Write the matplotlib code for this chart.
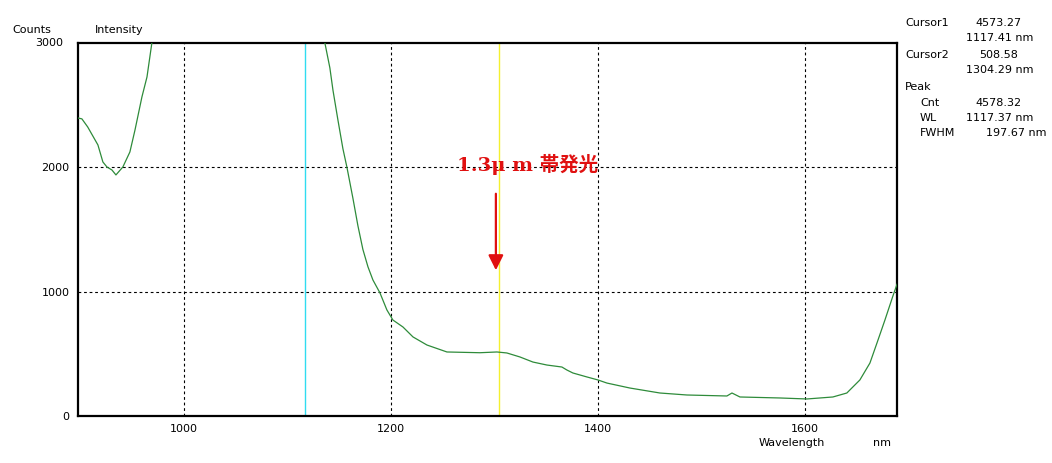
import matplotlib
matplotlib.use("Agg")
import matplotlib.pyplot as plt

# spectrum (nm, counts)
wavelength = [897.6, 901.4, 907.0, 916.9, 921.7, 925.6, 930.4, 934.3, 941.0, 947.8,
              952.7, 959.4, 964.3, 969.0, 990.0, 1030.0, 1080.0, 1117.4, 1125.0, 1130.0,
              1136.2, 1141.0, 1144.0, 1148.8, 1153.6, 1157.5, 1163.3, 1168.1, 1172.9, 1177.8,
              1182.6, 1189.4, 1196.1, 1201.9, 1211.6, 1221.3, 1234.8, 1254.1, 1286.0, 1302.4,
              1312.0, 1324.6, 1337.2, 1350.7, 1365.2, 1370.0, 1375.8, 1389.4, 1400.0, 1408.7,
              1430.9, 1459.9, 1486.0, 1524.6, 1529.5, 1537.2, 1575.8, 1601.9, 1627.0, 1640.5,
              1653.1, 1662.8, 1669.6, 1677.3, 1685.0, 1689.0]
counts = [2397, 2390, 2325, 2180, 2043, 2003, 1979, 1939, 2003, 2124,
          2300, 2566, 2727, 3000, 3800, 4300, 4520, 4578, 3600, 3320,
          3000, 2800, 2620, 2380, 2150, 2000, 1750, 1530, 1340, 1200,
          1094, 990, 853, 772, 716, 636, 571, 515, 509, 515,
          507, 475, 434, 410, 394, 370, 346, 314, 290, 265,
          225, 185, 169, 161, 185, 153, 145, 137, 153, 185,
          290, 426, 587, 772, 965, 1060]

cursor1 = 1117.41
cursor2 = 1304.29
x_ticks = [1000, 1200, 1400, 1600]
y_ticks = [0, 1000, 2000, 3000]

fig = plt.figure(figsize=(10.52, 4.63), dpi=100)
ax = fig.add_axes([0.0741, 0.1015, 0.7786, 0.8056])

ax.plot(wavelength, counts, color="#2e8b3a", lw=0.9, zorder=3)
ax.axvline(cursor1, color="#30dcf0", lw=1.0, zorder=2)
ax.axvline(cursor2, color="#f4f030", lw=1.0, zorder=2)

ax.set_xlim(897.6, 1689)
ax.set_ylim(0, 3000)
ax.set_xticks(x_ticks)
ax.set_yticks(y_ticks)
ax.set_yticklabels(["0", "1000", "2000", ""])
ax.tick_params(length=0, labelsize=8, pad=6)
for v in x_ticks:
    ax.axvline(v, color="black", lw=0.8, ls=(0, (2.5, 2.5)), zorder=1)
for v in [1000, 2000]:
    ax.axhline(v, color="black", lw=0.8, ls=(0, (2.5, 2.5)), zorder=1)
for s in ax.spines.values():
    s.set_linewidth(1.6)

fig.text(12 / 1052, 1 - 30 / 463, "Counts", fontsize=8, va="center")
fig.text(63 / 1052, 1 - 43 / 463, "3000", fontsize=8, va="center", ha="right")
fig.text(95 / 1052, 1 - 30 / 463, "Intensity", fontsize=8, va="center")
fig.text(792 / 1052, 1 - 443 / 463, "Wavelength", fontsize=8, va="center", ha="center")
fig.text(882 / 1052, 1 - 443 / 463, "nm", fontsize=8, va="center", ha="center")

# cursor / peak info box
info = [
    (905, 23, "Cursor1", 1022, "4573.27"),
    (None, 38, None, 1033, "1117.41 nm"),
    (905, 55, "Cursor2", 1018, "508.58"),
    (None, 70, None, 1033, "1304.29 nm"),
    (905, 87, "Peak", None, None),
    (920, 103, "Cnt", 1022, "4578.32"),
    (920, 118, "WL", 1033, "1117.37 nm"),
    (920, 133, "FWHM", 1047, "197.67 nm"),
]
for lx, y, lab, rx, val in info:
    if lab:
        fig.text(lx / 1052, 1 - y / 463, lab, fontsize=8, va="center")
    if val:
        fig.text(rx / 1052, 1 - y / 463, val, fontsize=8, va="center", ha="right")

ax.annotate("", xy=(1301.4, 1150), xytext=(1301.4, 1810),
            arrowprops=dict(arrowstyle="-|>,head_width=0.45,head_length=0.9",
                            color="#e01010", lw=1.6), zorder=5)
ax.text(1264, 2020, "1.3\u03bc m 帯発光", color="#e01010", fontsize=14, fontweight="bold",
        ha="left", va="center", family=["DejaVu Serif", "Noto Sans CJK JP"], zorder=5)

fig.savefig("out.png", dpi=100)
